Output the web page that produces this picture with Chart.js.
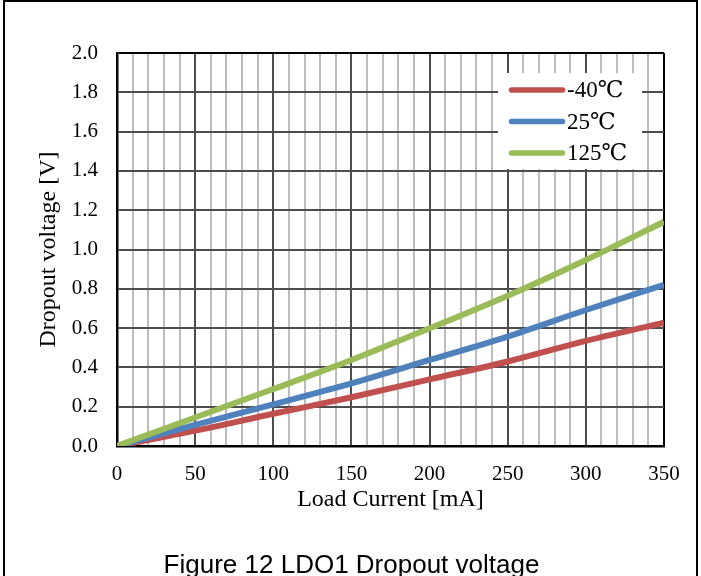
<!DOCTYPE html>
<html>
<head>
<meta charset="utf-8">
<script src="https://cdn.jsdelivr.net/npm/chart.js@4"></script>
<style>
  html, body { margin: 0; padding: 0; background: #fff; }
  body { width: 701px; height: 576px; position: relative; overflow: hidden; }
  #frame { position: absolute; left: 3px; top: 0; width: 695px; height: 576px; box-sizing: border-box;
           border-top: 2px solid #000; border-left: 2px solid #000; border-right: 2px solid #000; }
  #chart { position: absolute; left: 0; top: 0; }
  #caption { position: absolute; left: 0; top: 551px; width: 703px; text-align: center;
             font: 26px/26px "Liberation Sans", Arial, sans-serif; color: #000; white-space: nowrap; }
</style>
</head>
<body>
<div id="frame"></div>
<canvas id="chart" width="701" height="576"></canvas>
<div id="caption">Figure 12 LDO1 Dropout voltage</div>
<script>
// load current [mA] and dropout voltage [V] per temperature
const currentMA = [0, 50, 100, 150, 200, 250, 300, 350];
const dropoutM40 = [0, 0.078, 0.164, 0.248, 0.339, 0.430, 0.535, 0.628];
const dropout25 = [0, 0.107, 0.212, 0.319, 0.438, 0.557, 0.692, 0.820];
const dropout125 = [0, 0.145, 0.290, 0.438, 0.599, 0.765, 0.947, 1.141];
const tempLabels = ["-40℃", "25℃", "125℃"];
const tempColors = ["#C0504D", "#4F81BD", "#9BBB59"];

const xMax = 350, xMinorStep = 10, xLabelStep = 50;
const yMax = 2, yStep = 0.2;

const serif = '"Liberation Serif", "DejaVu Serif", serif';

function toPoints(ys) {
  return currentMA.map((x, i) => ({ x: x, y: ys[i] }));
}

// legend in a white box over the top-right of the plot
const boxLegend = {
  id: "boxLegend",
  afterDatasetsDraw(chart) {
    const { ctx, chartArea } = chart;
    const x0 = chartArea.right - 166;
    const y0 = chartArea.top + 20;
    ctx.save();
    ctx.fillStyle = "#fff";
    ctx.fillRect(x0, y0, 144, 96);
    ctx.font = "23px " + serif;
    ctx.textBaseline = "middle";
    chart.data.datasets.forEach((ds, i) => {
      const y = y0 + 17 + i * 31.5;
      ctx.strokeStyle = ds.borderColor;
      ctx.lineWidth = 5.5;
      ctx.lineCap = "round";
      ctx.beginPath();
      ctx.moveTo(x0 + 13.5, y);
      ctx.lineTo(x0 + 64.5, y);
      ctx.stroke();
      ctx.fillStyle = "#000";
      ctx.fillText(ds.label, x0 + 69, y + 1);
    });
    ctx.restore();
  }
};

const series = [dropoutM40, dropout25, dropout125];

new Chart(document.getElementById("chart"), {
  type: "line",
  data: {
    datasets: series.map((ys, i) => ({
      label: tempLabels[i],
      data: toPoints(ys),
      borderColor: tempColors[i],
      backgroundColor: tempColors[i],
      borderWidth: 6,
      pointRadius: 0,
      cubicInterpolationMode: "monotone",
      order: series.length - i
    }))
  },
  options: {
    responsive: false,
    animation: false,
    devicePixelRatio: 1,
    layout: { padding: { left: 0, top: 53, right: 37, bottom: 0 } },
    plugins: { legend: { display: false }, tooltip: { enabled: false } },
    scales: {
      x: {
        type: "linear",
        min: 0,
        max: xMax,
        afterFit(scale) { scale.height = 130; },
        ticks: {
          stepSize: xMinorStep,
          autoSkip: false,
          maxRotation: 0,
          padding: 16,
          color: "#000",
          font: { family: serif, size: 21 },
          callback: v => (v % xLabelStep === 0 ? v : "")
        },
        grid: {
          drawTicks: false,
          color: c => {
            const v = c.tick.value;
            if (v === xMax) return "#000";
            return v % xLabelStep === 0 ? "#4d4d4d" : "#bdbdbd";
          },
          lineWidth: 2
        },
        border: { color: "#000", width: 2.5 },
        title: {
          display: true,
          text: "Load Current [mA]",
          color: "#000",
          font: { family: serif, size: 24 },
          padding: { top: 0, bottom: 62 }
        }
      },
      y: {
        min: 0,
        max: yMax,
        afterFit(scale) { scale.width = 117; },
        ticks: {
          stepSize: yStep,
          padding: 19,
          color: "#000",
          font: { family: serif, size: 21 },
          callback: v => v.toFixed(1)
        },
        grid: {
          drawTicks: false,
          color: c => (Math.abs(c.tick.value - yMax) < 1e-6 ? "#000" : "#4d4d4d"),
          lineWidth: 2
        },
        border: { color: "#000", width: 2.5 },
        title: {
          display: true,
          text: "Dropout voltage [V]",
          color: "#000",
          font: { family: serif, size: 24 },
          padding: { top: 34, bottom: 0 }
        }
      }
    }
  },
  plugins: [boxLegend]
});
</script>
</body>
</html>
